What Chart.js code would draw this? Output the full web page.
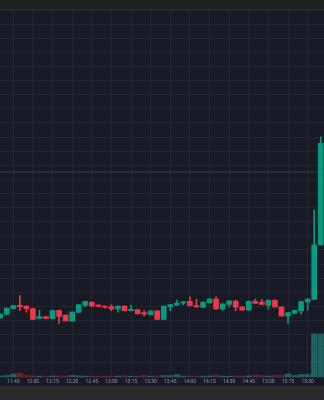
<!DOCTYPE html>
<html>
<head>
<meta charset="utf-8">
<title>5m candles</title>
<script src="https://cdn.jsdelivr.net/npm/chart.js@4.4.1/dist/chart.umd.min.js"></script>
<style>
    html, body { margin: 0; padding: 0; background: #181b26; overflow: hidden; }
    #topbar { height: 9px; background: #212121; border-bottom: 1px solid #2a2e39; }
    #wrap { position: relative; width: 324px; height: 376px; }
    #bottombar { height: 14px; background: #2a2a2a; }
</style>
</head>
<body>
<div id="topbar"></div>
<div id="wrap"><canvas id="chart"></canvas></div>
<div id="bottombar"></div>
<script>
// 5 minute candles
const times = [
    '11:35', '11:40', '11:45', '11:50', '11:55', '12:00', '12:05', '12:10', '12:15', '12:20',
    '12:25', '12:30', '12:35', '12:40', '12:45', '12:50', '12:55', '13:00', '13:05', '13:10',
    '13:15', '13:20', '13:25', '13:30', '13:35', '13:40', '13:45', '13:50', '13:55', '14:00',
    '14:05', '14:10', '14:15', '14:20', '14:25', '14:30', '14:35', '14:40', '14:45', '14:50',
    '14:55', '15:00', '15:05', '15:10', '15:15', '15:20', '15:25', '15:30', '15:35', '15:40'
];
const opens = [
    1.509, 1.522, 1.542, 1.554, 1.551, 1.542, 1.507, 1.514, 1.507, 1.536,
    1.519, 1.498, 1.529, 1.554, 1.565, 1.555, 1.551, 1.549, 1.541, 1.551,
    1.535, 1.538, 1.528, 1.521, 1.534, 1.504, 1.549, 1.555, 1.562, 1.568,
    1.553, 1.547, 1.563, 1.576, 1.541, 1.557, 1.569, 1.548, 1.537, 1.568,
    1.565, 1.554, 1.572, 1.548, 1.516, 1.526, 1.534, 1.566, 1.575, 1.768
];
const highs = [
    1.524, 1.545, 1.554, 1.589, 1.552, 1.543, 1.537, 1.515, 1.537, 1.537,
    1.520, 1.531, 1.557, 1.569, 1.566, 1.556, 1.552, 1.556, 1.552, 1.552,
    1.555, 1.539, 1.535, 1.535, 1.535, 1.552, 1.557, 1.573, 1.568, 1.584,
    1.575, 1.566, 1.578, 1.584, 1.560, 1.572, 1.572, 1.549, 1.569, 1.576,
    1.575, 1.573, 1.573, 1.549, 1.529, 1.537, 1.568, 1.577, 1.892, 2.151
];
const lows = [
    1.508, 1.521, 1.541, 1.535, 1.530, 1.503, 1.506, 1.506, 1.506, 1.490,
    1.498, 1.497, 1.528, 1.549, 1.550, 1.549, 1.544, 1.535, 1.530, 1.534,
    1.534, 1.523, 1.516, 1.520, 1.503, 1.503, 1.535, 1.554, 1.556, 1.552,
    1.547, 1.546, 1.562, 1.540, 1.535, 1.549, 1.535, 1.536, 1.535, 1.560,
    1.556, 1.540, 1.547, 1.515, 1.490, 1.524, 1.523, 1.537, 1.574, 1.767
];
const closes = [
    1.523, 1.544, 1.553, 1.549, 1.542, 1.504, 1.514, 1.507, 1.536, 1.515,
    1.499, 1.530, 1.556, 1.568, 1.551, 1.550, 1.547, 1.541, 1.551, 1.535,
    1.540, 1.524, 1.523, 1.534, 1.504, 1.551, 1.556, 1.562, 1.567, 1.553,
    1.548, 1.565, 1.576, 1.541, 1.559, 1.569, 1.547, 1.537, 1.568, 1.561,
    1.557, 1.572, 1.548, 1.516, 1.528, 1.536, 1.567, 1.576, 1.768, 2.128
];
// volume in thousands
const volumes = [
    25, 38, 75, 100, 38, 30, 22, 20, 28, 30,
    26, 40, 30, 25, 24, 20, 18, 22, 25, 36,
    20, 26, 45, 22, 30, 38, 36, 62, 24, 28,
    22, 24, 26, 52, 24, 20, 28, 25, 30, 50,
    38, 26, 36, 40, 75, 38, 62, 60, 1080, 1075
];
const tickLabels = [
    '11:45', '12:00', '12:15', '12:30', '12:45', '13:00', '13:15', '13:30',
    '13:45', '14:00', '14:15', '14:30', '14:45', '15:00', '15:15', '15:30'
];
const refLevel = 2.026;

// colours
const upColor = '#089981';
const downColor = '#f23645';
const upVolColor = 'rgba(38, 166, 154, 0.5)';
const downVolColor = 'rgba(242, 54, 69, 0.35)';
const gridColor = '#22262f';

// Convert 'HH:MM' to minutes of the day
function toMinutes(label) {
    const parts = label.split(':');
    return Number(parts[0]) * 60 + Number(parts[1]);
}

// visible window (minutes)
const xMin = 694.85;
const xMax = 942.5;

const isUp = opens.map((o, i) => closes[i] >= o);

const bodies = times.map((t, i) => ({ x: toMinutes(t), y: [opens[i], closes[i]] }));
const wicks = times.map((t, i) => ({ x: toMinutes(t), y: [lows[i], highs[i]] }));
const vols = times.map((t, i) => ({ x: toMinutes(t), y: volumes[i] }));

const ctx = document.getElementById('chart');

new Chart(ctx, {
    type: 'bar',
    data: {
        datasets: [
            {
                type: 'bar',
                data: vols,
                yAxisID: 'yv',
                backgroundColor: isUp.map(u => u ? upVolColor : downVolColor),
                barThickness: 5.6,
                grouped: false,
                order: 4
            },
            {
                type: 'line',
                data: [{ x: xMin, y: refLevel }, { x: xMax, y: refLevel }],
                yAxisID: 'y',
                borderColor: '#1d4a4b',
                borderWidth: 1,
                pointRadius: 0,
                order: 3
            },
            {
                type: 'bar',
                data: wicks,
                yAxisID: 'y',
                backgroundColor: isUp.map(u => u ? upColor : downColor),
                barThickness: 1,
                grouped: false,
                order: 2
            },
            {
                type: 'bar',
                data: bodies,
                yAxisID: 'y',
                backgroundColor: isUp.map(u => u ? upColor : downColor),
                barThickness: 5,
                minBarLength: 1,
                grouped: false,
                order: 1
            }
        ]
    },
    options: {
        responsive: true,
        maintainAspectRatio: false,
        animation: false,
        layout: { padding: 0 },
        plugins: {
            legend: { display: false },
            tooltip: { enabled: false }
        },
        scales: {
            x: {
                type: 'linear',
                min: xMin,
                max: xMax,
                offset: false,
                grid: { color: gridColor, offset: false, drawTicks: false },
                border: { display: false },
                ticks: {
                    color: '#9598a1',
                    font: { size: 5, family: 'Roboto' },
                    padding: 2,
                    maxRotation: 0,
                    autoSkip: false,
                    callback: (value, index) => tickLabels[index]
                },
                afterBuildTicks: (axis) => {
                    axis.ticks = tickLabels.map(l => ({ value: toMinutes(l) }));
                },
                afterFit: (axis) => { axis.height = 9; }
            },
            y: {
                min: 1.30,
                max: 2.60,
                ticks: { display: false, stepSize: 0.05 },
                grid: { color: gridColor, drawTicks: false },
                border: { display: false },
                afterFit: (axis) => { axis.width = 0; }
            },
            yv: {
                display: false,
                min: 0,
                max: 9175
            }
        }
    }
});
</script>
</body>
</html>
